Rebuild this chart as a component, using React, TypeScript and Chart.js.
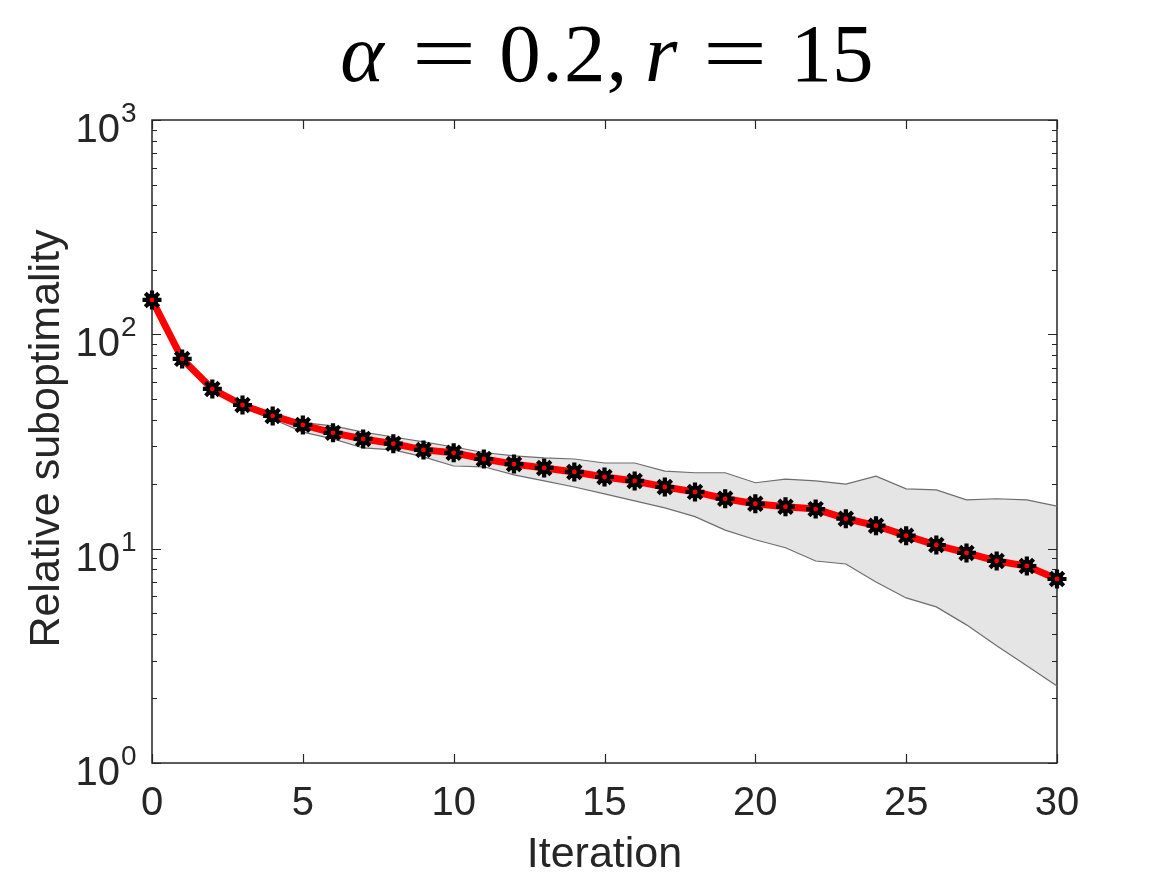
import React, { useEffect, useRef } from 'react';
import { Chart, registerables } from 'chart.js';

Chart.register(...registerables);

const iterations = [0, 1, 2, 3, 4, 5, 6, 7, 8, 9, 10, 11, 12, 13, 14, 15, 16, 17, 18, 19, 20, 21, 22, 23, 24, 25, 26, 27, 28, 29, 30];
const meanValues = [144.7, 76.8, 55.6, 46.8, 41.6, 37.8, 34.7, 32.5, 30.9, 28.9, 28.0, 26.2, 24.8, 23.8, 22.8, 21.6, 20.7, 19.4, 18.4, 17.1, 16.2, 15.7, 15.3, 13.8, 12.8, 11.5, 10.4, 9.55, 8.76, 8.3, 7.22];
const upperValues = [146, 78.4, 56.8, 47.9, 43.0, 38.7, 37.4, 35.0, 33.2, 31.5, 29.8, 28.1, 27.1, 26.5, 26.2, 25.1, 25.1, 23.0, 22.6, 22.6, 20.3, 21.1, 20.7, 20.0, 21.8, 19.0, 18.8, 16.9, 17.1, 16.9, 15.8];
const lowerValues = [143, 75.1, 54.4, 45.8, 40.3, 35.0, 32.5, 29.5, 28.9, 26.8, 24.3, 24.1, 22.1, 20.7, 19.4, 18.0, 16.7, 15.5, 14.1, 12.2, 11.0, 10.1, 8.76, 8.48, 6.99, 5.89, 5.35, 4.41, 3.52, 2.84, 2.29];
const xTickValues = [0, 5, 10, 15, 20, 25, 30];
const yDecadeExponents = [0, 1, 2, 3];
const xAxisTitle = 'Iteration';
const yAxisTitle = 'Relative suboptimality';

const SANS = '"Liberation Sans", Arial, Helvetica, sans-serif';
const SERIF = '"Liberation Serif", "Times New Roman", serif';
const AXIS_COLOR = '#262626';

const toPoints = (vals: number[]) => iterations.map((x, i) => ({ x, y: vals[i] }));

const decorPlugin = {
  id: 'matlabDecor',
  beforeDatasetsDraw(chart: any) {
    const { ctx, chartArea, scales } = chart;
    const { left, right, top, bottom } = chartArea;
    const xs = scales.x;
    const ys = scales.y;
    ctx.save();
    ctx.strokeStyle = AXIS_COLOR;
    ctx.lineWidth = 1.5;
    ctx.strokeRect(left, top, right - left, bottom - top);
    ctx.lineWidth = 1.2;
    ctx.beginPath();
    for (const v of xTickValues) {
      const px = Math.round(xs.getPixelForValue(v)) + 0.5;
      ctx.moveTo(px, bottom);
      ctx.lineTo(px, bottom - 9);
      ctx.moveTo(px, top);
      ctx.lineTo(px, top + 9);
    }
    for (const e of yDecadeExponents) {
      const py = Math.round(ys.getPixelForValue(Math.pow(10, e))) + 0.5;
      ctx.moveTo(left, py);
      ctx.lineTo(left + 9, py);
      ctx.moveTo(right, py);
      ctx.lineTo(right - 9, py);
      if (e < yDecadeExponents[yDecadeExponents.length - 1]) {
        for (let m = 2; m <= 9; m++) {
          const pm = Math.round(ys.getPixelForValue(m * Math.pow(10, e))) + 0.5;
          ctx.moveTo(left, pm);
          ctx.lineTo(left + 5, pm);
          ctx.moveTo(right, pm);
          ctx.lineTo(right - 5, pm);
        }
      }
    }
    ctx.stroke();
    ctx.restore();
  },
  afterDraw(chart: any) {
    const { ctx, chartArea, scales } = chart;
    const { left, right, top, bottom } = chartArea;
    const xs = scales.x;
    const ys = scales.y;
    ctx.save();
    ctx.fillStyle = AXIS_COLOR;
    // x tick labels
    ctx.font = `40px ${SANS}`;
    ctx.textAlign = 'center';
    ctx.textBaseline = 'alphabetic';
    for (const v of xTickValues) {
      ctx.fillText(String(v), xs.getPixelForValue(v), bottom + 52);
    }
    // y tick labels 10^e
    for (const e of yDecadeExponents) {
      const py = ys.getPixelForValue(Math.pow(10, e));
      ctx.font = `40px ${SANS}`;
      ctx.textAlign = 'right';
      ctx.fillText('10', left - 32, py + 22);
      ctx.font = `28px ${SANS}`;
      ctx.textAlign = 'left';
      ctx.fillText(String(e), left - 31, py + 2);
    }
    // axis titles
    ctx.font = `43px ${SANS}`;
    ctx.textAlign = 'center';
    ctx.fillText(xAxisTitle, (left + right) / 2, 867);
    ctx.save();
    ctx.translate(59, (top + bottom) / 2 - 3);
    ctx.rotate(-Math.PI / 2);
    ctx.fillText(yAxisTitle, 0, 0);
    ctx.restore();
    // title, laid out with Computer-Modern-like advances
    const size = 83;
    const pieces: { t: string; w: number; italic?: boolean; stretch?: number }[] = [
      { t: '\u03B1', w: 0.64, italic: true },
      { t: '', w: 0.278 },
      { t: '=', w: 0.778, stretch: 1.38 },
      { t: '', w: 0.278 },
      { t: '0', w: 0.5 },
      { t: '.', w: 0.278 },
      { t: '2', w: 0.5 },
      { t: ',', w: 0.278 },
      { t: '', w: 0.167 },
      { t: 'r', w: 0.451, italic: true },
      { t: '', w: 0.278 },
      { t: '=', w: 0.778, stretch: 1.38 },
      { t: '', w: 0.278 },
      { t: '1', w: 0.5 },
      { t: '5', w: 0.5 },
    ];
    const total = pieces.reduce((s, p) => s + p.w, 0) * size;
    let cx = (left + right) / 2 - total / 2;
    const baseY = 81;
    ctx.textAlign = 'center';
    for (const p of pieces) {
      const w = p.w * size;
      if (p.t) {
        ctx.font = `${p.italic ? 'italic ' : ''}${size}px ${SERIF}`;
        ctx.save();
        ctx.translate(cx + w / 2, baseY);
        if (p.stretch) ctx.scale(p.stretch, 1);
        ctx.fillStyle = '#000';
        ctx.fillText(p.t, 0, 0);
        ctx.restore();
      }
      cx += w;
    }
    ctx.restore();
  },
};

export default function App() {
  const canvasRef = useRef<HTMLCanvasElement | null>(null);
  useEffect(() => {
    if (!canvasRef.current) return;
    const chart = new Chart(canvasRef.current, {
      type: 'line',
      data: {
        datasets: [
          {
            label: 'centre',
            data: toPoints(meanValues),
            showLine: false,
            pointStyle: 'circle',
            pointRadius: 2.4,
            pointBackgroundColor: '#ff0000',
            pointBorderWidth: 0,
            clip: false,
          } as any,
          {
            label: 'markers',
            data: toPoints(meanValues),
            showLine: false,
            pointStyle: 'star',
            pointRadius: 9.5,
            pointBorderColor: '#000000',
            pointBackgroundColor: '#000000',
            pointBorderWidth: 4.2,
            clip: false,
          } as any,
          {
            label: 'markerCore',
            data: toPoints(meanValues),
            showLine: false,
            pointStyle: 'circle',
            pointRadius: 6.5,
            pointBorderColor: '#000000',
            pointBackgroundColor: '#000000',
            pointBorderWidth: 0,
            clip: false,
          } as any,
          {
            label: 'mean',
            data: toPoints(meanValues),
            borderColor: '#ff0000',
            borderWidth: 7,
            pointRadius: 0,
            fill: false,
            tension: 0,
            clip: false,
          } as any,
          {
            label: 'upper',
            data: toPoints(upperValues),
            borderColor: '#6e6e6e',
            borderWidth: 1.2,
            pointRadius: 0,
            backgroundColor: '#e5e5e5',
            fill: '+1',
            tension: 0,
          } as any,
          {
            label: 'lower',
            data: toPoints(lowerValues),
            borderColor: '#6e6e6e',
            borderWidth: 1.2,
            pointRadius: 0,
            fill: false,
            tension: 0,
          } as any,
        ],
      },
      options: {
        animation: false,
        responsive: false,
        devicePixelRatio: 1,
        layout: { padding: { top: 120, right: 110, left: 0, bottom: 0 } },
        plugins: {
          legend: { display: false },
          tooltip: { enabled: false },
          filler: { drawTime: 'beforeDatasetsDraw' },
        } as any,
        scales: {
          x: {
            type: 'linear',
            min: 0,
            max: 30,
            grid: { display: false, drawTicks: false },
            border: { display: false },
            ticks: { display: false },
            afterFit: (s: any) => { s.height = 112; },
          },
          y: {
            type: 'logarithmic',
            min: 1,
            max: 1000,
            grid: { display: false, drawTicks: false },
            border: { display: false },
            ticks: { display: false },
            afterFit: (s: any) => { s.width = 152; },
          },
        },
      } as any,
      plugins: [decorPlugin],
    });
    return () => chart.destroy();
  }, []);
  return (
    <div style={{ position: 'fixed', left: 0, top: 0, width: 1167, height: 875, background: '#fff' }}>
      <canvas ref={canvasRef} width={1167} height={875} style={{ width: 1167, height: 875, display: 'block' }} />
    </div>
  );
}
